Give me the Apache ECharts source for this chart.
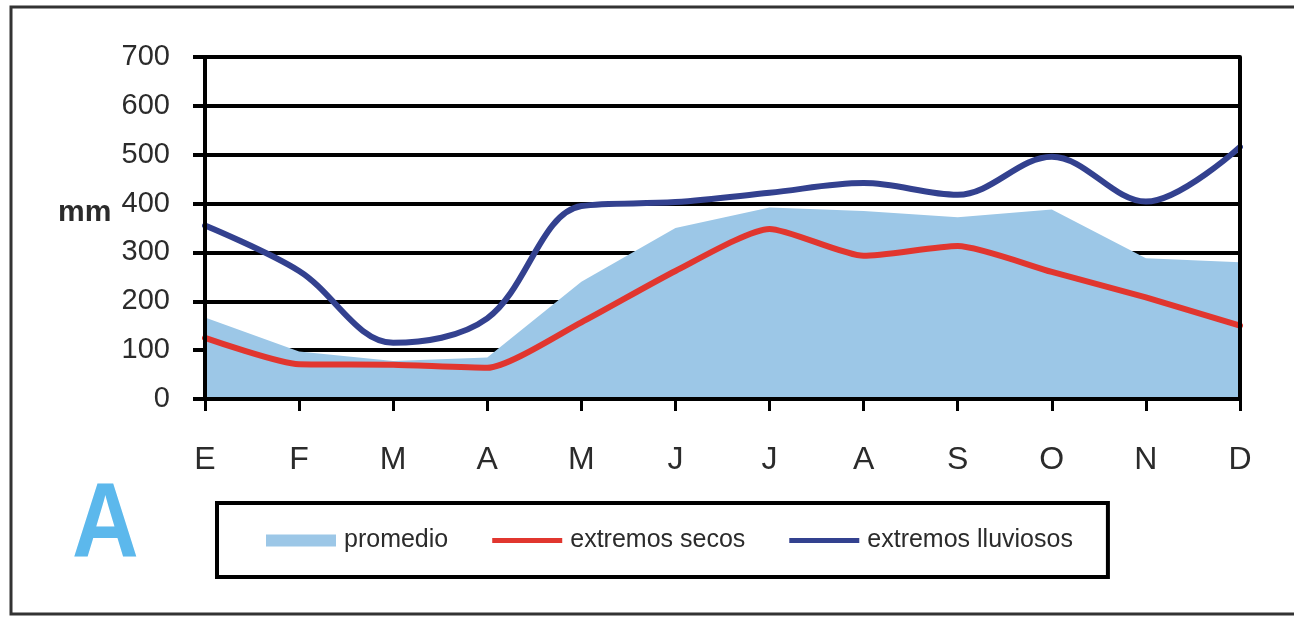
<!DOCTYPE html>
<html>
<head>
<meta charset="utf-8">
<style>
  html, body { margin: 0; padding: 0; background: #fff; }
  #chart { width: 1294px; height: 617px; }
</style>
<script src="https://cdn.jsdelivr.net/npm/echarts@6/dist/echarts.min.js"></script>
</head>
<body>
<div id="chart"></div>
<script>
// Monthly rainfall (mm): average and dry / wet extremes
const months = ['E', 'F', 'M', 'A', 'M', 'J', 'J', 'A', 'S', 'O', 'N', 'D'];
const promedio = [167, 97, 78, 85, 240, 350, 392, 385, 372, 388, 288, 280];
const extremosSecos = [125, 71, 70, 64, 157, 262, 348, 293, 313, 260, 208, 150];
const extremosLluviosos = [355, 262, 115, 165, 395, 403, 422, 442, 418, 496, 404, 516];
const yTicks = { min: 0, max: 700, interval: 100 };

const SANS = '"Liberation Sans", Arial, sans-serif';
const TEXT = '#2b2b2b';

// Legend swatch for the line series: a thin bar centred in a 70x12 box
// (the hairline slivers at the top and bottom keep the box height).
const LINE_ICON = 'path://M0,0L70,0L70,0.01L0,0.01Z M0,3.5L70,3.5L70,8.5L0,8.5Z M0,11.99L70,11.99L70,12L0,12Z';

const chart = echarts.init(document.getElementById('chart'), null, { renderer: 'canvas' });

const valueAxisBase = { type: 'value', min: yTicks.min, max: yTicks.max, interval: yTicks.interval };

chart.setOption({
  animation: false,
  backgroundColor: '#fff',
  grid: { left: 205, right: 54, top: 57, bottom: 218, containLabel: false },
  xAxis: {
    type: 'category',
    data: months,
    boundaryGap: false,
    z: 5,
    axisLine: { show: true, lineStyle: { color: '#000', width: 4 } },
    axisTick: { show: true, length: 12, lineStyle: { color: '#000', width: 3 } },
    axisLabel: { color: TEXT, fontFamily: SANS, fontSize: 32, margin: 45 },
    splitLine: { show: false }
  },
  yAxis: [
    // grid lines, drawn beneath the series
    Object.assign({}, valueAxisBase, {
      position: 'left',
      axisLine: { show: false },
      axisTick: { show: false },
      axisLabel: { show: false },
      splitLine: { show: true, lineStyle: { color: '#000', width: 4 } }
    }),
    // left axis line, ticks and labels, drawn above the series
    Object.assign({}, valueAxisBase, {
      position: 'left',
      z: 5,
      axisLine: { show: true, lineStyle: { color: '#000', width: 4 } },
      axisTick: { show: true, length: 12, lineStyle: { color: '#000', width: 4 } },
      axisLabel: { color: TEXT, fontFamily: SANS, fontSize: 29, margin: 35 },
      splitLine: { show: false }
    }),
    // right frame line of the plot
    Object.assign({}, valueAxisBase, {
      position: 'right',
      z: 5,
      axisLine: { show: true, lineStyle: { color: '#000', width: 4 } },
      axisTick: { show: false },
      axisLabel: { show: false },
      splitLine: { show: false }
    })
  ],
  legend: {
    left: 217,
    top: 503,
    orient: 'horizontal',
    itemWidth: 70,
    itemHeight: 12,
    itemGap: 44,
    padding: [25, 35, 24, 49],
    borderColor: '#000',
    borderWidth: 4,
    backgroundColor: '#fff',
    textStyle: { color: TEXT, fontFamily: SANS, fontSize: 25, padding: [0, 0, 0, 3] },
    data: [
      { name: 'promedio', icon: 'rect' },
      { name: 'extremos secos', icon: LINE_ICON },
      { name: 'extremos lluviosos', icon: LINE_ICON }
    ]
  },
  graphic: [
    {
      type: 'rect',
      silent: true,
      shape: { x: 11, y: 7, width: 1320, height: 607 },
      style: { fill: 'none', stroke: '#333', lineWidth: 3 }
    },
    {
      type: 'text',
      x: 58,
      y: 213,
      style: { text: 'mm', fill: TEXT, font: 'bold 30px ' + SANS, textVerticalAlign: 'middle' }
    },
    {
      type: 'text',
      x: 72,
      y: 476,
      scaleX: 0.88,
      style: { text: 'A', fill: '#5cb8ec', font: 'bold 105px ' + SANS, textVerticalAlign: 'top' }
    }
  ],
  series: [
    {
      name: 'promedio',
      type: 'line',
      yAxisIndex: 0,
      data: promedio,
      symbol: 'none',
      z: 2,
      itemStyle: { color: '#9cc7e7' },
      lineStyle: { width: 0, color: '#9cc7e7' },
      areaStyle: { color: '#9cc7e7', opacity: 1 }
    },
    {
      name: 'extremos secos',
      type: 'line',
      yAxisIndex: 0,
      data: extremosSecos,
      symbol: 'none',
      smooth: 0.2,
      z: 3,
      itemStyle: { color: '#e1362f' },
      lineStyle: { width: 6, color: '#e1362f', cap: 'round', join: 'round' }
    },
    {
      name: 'extremos lluviosos',
      type: 'line',
      yAxisIndex: 0,
      data: extremosLluviosos,
      symbol: 'none',
      smooth: 0.35,
      z: 4,
      itemStyle: { color: '#33418f' },
      lineStyle: { width: 6, color: '#33418f', cap: 'round', join: 'round' }
    }
  ]
});
</script>
</body>
</html>
